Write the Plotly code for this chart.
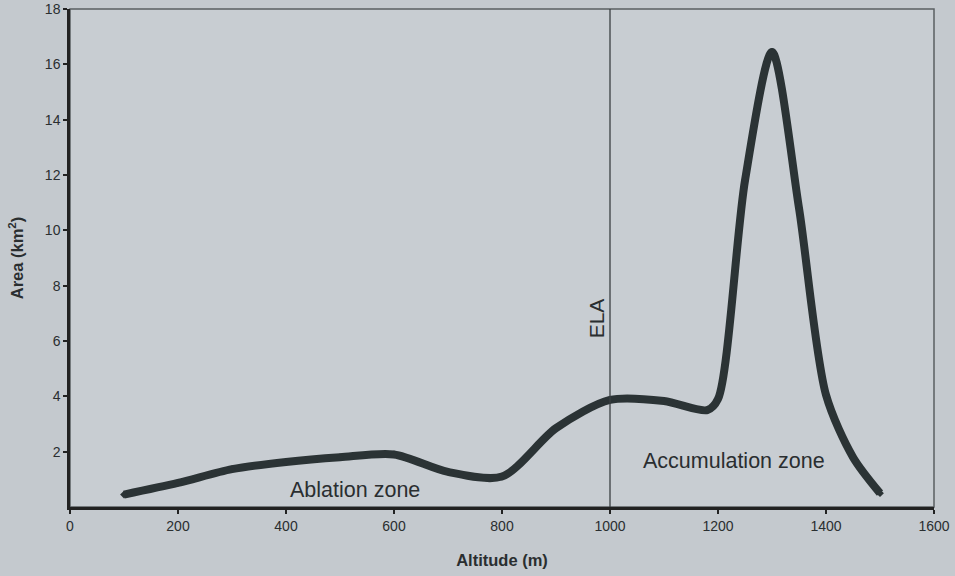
import plotly.graph_objects as go

# Glacier hypsometry: area per altitude band
altitude = [100, 200, 300, 400, 500, 600, 700, 800, 900, 1000, 1100, 1180, 1200,
            1250, 1300, 1350, 1400, 1450, 1500]
area = [0.45, 0.87, 1.37, 1.63, 1.8, 1.9, 1.27, 1.1, 2.85, 3.87, 3.83, 3.5, 3.9,
        11.8, 16.45, 10.8, 4.05, 1.8, 0.5]

ela_altitude = 1000
x_ticks = [0, 200, 400, 600, 800, 1000, 1200, 1400, 1600]
y_ticks = [2, 4, 6, 8, 10, 12, 14, 16, 18]

bg = "#c4c9ce"
ink = "#2b3335"
font = "Liberation Sans, Arial, sans-serif"

fig = go.Figure()
fig.add_trace(go.Scatter(
    x=altitude, y=area, mode="lines+markers",
    line=dict(color=ink, width=8, shape="spline", smoothing=0.8),
    marker=dict(symbol="diamond", size=6, color=ink),
    showlegend=False, hoverinfo="x+y",
))

# ELA marker line
fig.add_shape(type="line", x0=ela_altitude, x1=ela_altitude, y0=0, y1=18,
              xref="x", yref="y", line=dict(color="#3a3f42", width=1.3))
# thin frame round the plot area
fig.add_shape(type="rect", x0=0, x1=1, y0=0, y1=1, xref="paper", yref="paper",
              line=dict(color="#5a5f62", width=1.5), layer="below")

fig.add_annotation(x=975, y=6.8, text="ELA", textangle=-90, showarrow=False,
                   font=dict(size=21, color="#2a2e30", family=font))
fig.add_annotation(x=527, y=0.6, text="Ablation zone", showarrow=False,
                   font=dict(size=21.5, color="#2a2e30", family=font))
fig.add_annotation(x=1230, y=1.65, text="Accumulation zone", showarrow=False,
                   font=dict(size=21.5, color="#2a2e30", family=font))

fig.update_layout(
    width=955, height=576,
    margin=dict(l=70, r=21, t=9, b=69),
    paper_bgcolor=bg, plot_bgcolor="#c8cdd2",
    font=dict(family=font, size=13, color="#2a2e30"),
    xaxis=dict(range=[0, 1600], tickvals=x_ticks, ticks="outside", ticklen=4,
               tickwidth=2, tickcolor="#222", showline=True, linecolor="#222",
               linewidth=2.5, showgrid=False, zeroline=False, automargin=False,
               tickfont=dict(size=14, color="#2a2e30"),
               title=dict(text="<b>Altitude (m)</b>", font=dict(size=16.5), standoff=22)),
    yaxis=dict(range=[0, 18], tickvals=y_ticks, ticks="outside", ticklen=4,
               tickwidth=2, tickcolor="#222", showline=True, linecolor="#222",
               linewidth=2.5, showgrid=False, zeroline=False, automargin=False,
               tickfont=dict(size=14, color="#2a2e30"),
               title=dict(text="<b>Area (km<sup>2</sup>)</b>", font=dict(size=16.5), standoff=18)),
)

fig.write_html("out.html")
